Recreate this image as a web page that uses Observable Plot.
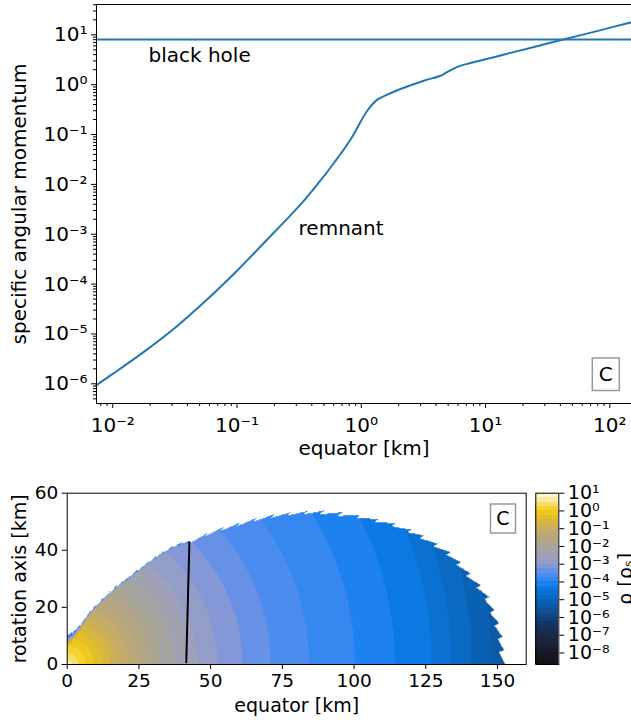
<!DOCTYPE html>
<html>
<head>
<meta charset="utf-8">
<script src="https://cdn.jsdelivr.net/npm/d3@7"></script>
<script src="https://cdn.jsdelivr.net/npm/@observablehq/plot@0.6"></script>
<style>
  html, body { margin: 0; padding: 0; background: #fff; }
  #wrap { position: relative; width: 631px; height: 723px; overflow: hidden; font-family: "DejaVu Sans", sans-serif; }
  #wrap svg { position: absolute; left: 0; }
</style>
</head>
<body>
<div id="wrap"></div>
<script>
// ---------------- top panel data ----------------
const remnantX = [0.00735, 0.0100, 0.0178, 0.0316, 0.0562, 0.100, 0.176, 0.325, 0.443, 0.603, 0.820,
                  1.117, 1.346, 1.585, 2.070, 3.19, 4.345, 4.786, 6.0, 7.13, 13.18, 24.55, 42.17, 83.2, 149.6];
const remnantY = [9.33e-7, 1.58e-6, 4.37e-6, 1.32e-5, 4.68e-5, 1.86e-4, 7.94e-4, 3.98e-3, 1.00e-2, 2.69e-2, 7.94e-2,
                  0.300, 0.501, 0.617, 0.820, 1.202, 1.514, 1.72, 2.30, 2.618, 3.864, 5.715, 8.05, 12.30, 17.91];
const blackHoleJ = 8.05;
const topXDomain = [0.0074, 149.5];
const topYDomain = [4.03e-7, 40.6];
const topXTicks = [0.01, 0.1, 1, 10, 100];
const topYTicks = [1e-6, 1e-5, 1e-4, 1e-3, 1e-2, 1e-1, 1, 10];
const topLabels = [
  {text: "black hole", x: 0.05, y: 3.85},
  {text: "remnant", x: 0.688, y: 1.27e-3}
];

// ---------------- bottom panel data ----------------
// density profile along radius (km) -> log10 rho
const profileR   = [0, 0.9, 1.74, 4.0, 6.4, 9.3, 12.2, 15.1, 18.0, 21.5, 25.0, 28.5, 32.6, 37.2, 41.9, 45.4, 52.3, 61.1, 70.9, 84.3, 100.3, 114.2, 127.0, 134.0, 141.0, 148.0, 153.0];
const profileLog = [0.85, 0.75, 0.5, 0.25, 0.0, -0.25, -0.5, -0.75, -1.0, -1.25, -1.5, -1.75, -2.0, -2.25, -2.5, -2.75, -3.0, -3.25, -3.5, -3.75, -4.0, -4.25, -4.5, -4.75, -5.0, -5.25, -5.45];
// surface tooth tips (equator km, rotation axis km), from pole to equator
const surfaceX = [0, 1.7, 3.2, 4.65, 6.3, 8.1, 10.4, 12.8, 15.1, 17.4, 19.8, 22.1, 24.4, 26.7, 29.0, 31.4, 34.3, 37.2, 40.1, 43.0,
                  48.8, 54.6, 60.5, 66.3, 72.1, 77.9, 83.7, 89.5, 95.9, 102.3, 108.7, 114.5, 119.8, 124.4, 129.1, 133.7,
                  137.2, 140.7, 144.2, 147.1, 148.9, 150.6, 151.8, 152.3, 152.6];
const surfaceY = [10.75, 11.3, 12.8, 14.2, 16.4, 19.0, 21.3, 23.6, 25.8, 27.7, 29.6, 31.2, 33.0, 34.7, 36.5, 38.2, 40.0, 41.7, 42.8, 43.4,
                  46.0, 48.1, 49.8, 51.4, 52.5, 53.3, 53.7, 53.9, 53.3, 52.4, 51.0, 49.5, 47.2, 45.2, 42.3, 39.3,
                  35.8, 31.8, 27.7, 23.6, 18.9, 14.3, 9.6, 4.9, 0];
const surfaceLog = -5.3;      // log10 rho right at the surface
const surfaceGrad = 1.3;      // rise of log10 rho per km below the surface
const cutX = [41.5, 42.6];
const cutY = [0.8, 42.8];
const bottomXTicks = [0, 25, 50, 75, 100, 125, 150];
const bottomYTicks = [0, 20, 40, 60];
const cbarDomain = [-8.65, 1.0];
const cbarTicks = [-8, -7, -6, -5, -4, -3, -2, -1, 0, 1];
// colormap stops: log10 rho -> colour
const cmapLog = [-8.65, -8.0, -7.5, -6.9, -6.3, -5.8, -5.4, -5.15, -4.9, -4.65, -4.4, -4.15, -3.9, -3.65, -3.35, -3.05, -2.7, -2.3, -1.9, -1.5, -1.1, -0.75, -0.4, -0.1, 0.2, 0.5, 0.8, 1.1];
const cmapCol = ["#111116", "#181a26", "#1a2236", "#182a4a", "#133766", "#0e4a8e", "#0c58a6", "#0a60b2", "#0a68c0", "#0a70d0", "#0a78e0", "#1a80ef", "#3487f0", "#4a8cf0", "#6a91e6", "#8c9ad2", "#9ca0be", "#a2a3ac", "#aaa593", "#b5a77f", "#c4ab68", "#d2b24a", "#e2bd2c", "#f0c81c", "#f5d535", "#f9e48a", "#fdf2c8", "#fffdf4"];

// ---------------- helpers ----------------
const SUP = {"-": "\u207B", "0": "\u2070", "1": "\u00B9", "2": "\u00B2", "3": "\u00B3", "4": "\u2074", "5": "\u2075", "6": "\u2076", "7": "\u2077", "8": "\u2078", "9": "\u2079"};
const supExp = e => String(e).split("").map(c => SUP[c]).join("");
const pow10 = v => "10" + supExp(Math.round(Math.log10(v)));
function minorLog(domain) {
  const out = [];
  for (let e = Math.floor(Math.log10(domain[0])); e <= Math.ceil(Math.log10(domain[1])); e++)
    for (let m = 2; m <= 9; m++) { const v = m * 10 ** e; if (v >= domain[0] && v <= domain[1]) out.push(v); }
  return out;
}
const FONT = "DejaVu Sans";
const C0 = "#1f77b4";
const wrap = document.getElementById("wrap");
const centered = {textAnchor: "middle", lineAnchor: "middle", fill: "black"};

// ---------------- top panel ----------------
const remnant = remnantX.map((x, i) => ({x, y: remnantY[i]}));
const topPlot = Plot.plot({
  width: 631, height: 470,
  marginLeft: 96, marginRight: 0, marginTop: 4, marginBottom: 67,
  style: {fontFamily: FONT, fontSize: "20px", background: "transparent", overflow: "visible", color: "black"},
  x: {type: "log", domain: topXDomain},
  y: {type: "log", domain: topYDomain},
  marks: [
    Plot.ruleY([blackHoleJ], {stroke: C0, strokeWidth: 2}),
    Plot.line(remnant, {x: "x", y: "y", stroke: C0, strokeWidth: 2, curve: "catmull-rom"}),
    Plot.ruleX([topXDomain[0]], {stroke: "black"}),
    Plot.ruleY(topYDomain, {stroke: "black"}),
    Plot.axisX({ticks: topXTicks, tickFormat: pow10, tickSize: 5, tickPadding: 9, label: null, fontSize: 20}),
    Plot.axisX({ticks: minorLog(topXDomain), tickFormat: () => "", tickSize: 3, label: null}),
    Plot.axisY({ticks: topYTicks, tickFormat: pow10, tickSize: 5, tickPadding: 4, label: null, fontSize: 20}),
    Plot.axisY({ticks: minorLog(topYDomain), tickFormat: () => "", tickSize: 3, label: null}),
    Plot.text(topLabels, {x: "x", y: "y", text: "text", fontSize: 20, ...centered}),
    Plot.text(["equator [km]"], {frameAnchor: "bottom", dy: 45, fontSize: 20, ...centered}),
    Plot.text(["specific angular momentum"], {frameAnchor: "left", dx: -77, rotate: -90, fontSize: 20, ...centered}),
    Plot.dot([0], {frameAnchor: "bottom-right", dx: -25.7, dy: -29.3, fill: "white", stroke: "#999", strokeWidth: 1.5,
      symbol: {draw(ctx) { ctx.rect(-13.5, -16.3, 27, 32.6); }}}),
    Plot.text(["C"], {frameAnchor: "bottom-right", dx: -25.7, dy: -29.3, fontSize: 20, ...centered})
  ]
});
topPlot.style.top = "0px";
wrap.appendChild(topPlot);

// ---------------- bottom panel ----------------
const levels = d3.range(-8.5, 1.0001, 0.25);
const bandEdges = [cbarDomain[0], ...levels, 1.1];
const cmap = d3.scaleLinear().domain(cmapLog).range(cmapCol).interpolate(d3.interpolateRgb).clamp(true);
const bandColors = d3.range(bandEdges.length - 1).map(i => cmap((bandEdges[i] + bandEdges[i + 1]) / 2));
const colorScale = {type: "threshold", domain: levels, range: bandColors};

const profile = d3.scaleLinear().domain(profileR).range(profileLog).clamp(true);
const tips = surfaceX.map((x, i) => [x, surfaceY[i]]);
const byAngle = tips.map(([x, y]) => [Math.atan2(y, x), Math.hypot(x, y)]).sort((a, b) => a[0] - b[0]);
const surfaceR = d3.scaleLinear().domain(byAngle.map(d => d[0])).range(byAngle.map(d => d[1])).clamp(true);
// outline with saw teeth between tips
const outline = [[0, 0]];
for (let k = 0; k < tips.length - 1; k++) {
  const [ax, ay] = tips[k], [bx, by] = tips[k + 1];
  outline.push([ax, ay]);
  const seg = Math.hypot(bx - ax, by - ay);
  const nx = ax + 0.1 * (bx - ax), ny = ay + 0.1 * (by - ay);
  const nr = Math.hypot(nx, ny), s = Math.max(0, 1 - 0.38 * seg / nr);
  outline.push([nx * s, ny * s]);
}
outline.push(tips[tips.length - 1]);
const inside = (x, y) => d3.polygonContains(outline, [x, y]);
function logRho(x, y) {
  if (!inside(x, y)) return NaN;
  const r = Math.hypot(x, y);
  const depth = Math.max(0, surfaceR(Math.atan2(y, x)) - r);
  return Math.min(profile(r), surfaceLog + surfaceGrad * depth);
}

const bottomPlot = Plot.plot({
  width: 631, height: 253,
  marginLeft: 66.7, marginRight: 105.3, marginTop: 22.7, marginBottom: 59,
  style: {fontFamily: FONT, fontSize: "18.5px", background: "transparent", overflow: "visible", color: "black"},
  x: {domain: [0, 160]},
  y: {domain: [0, 60]},
  color: colorScale,
  marks: [
    Plot.raster({x1: 0, x2: 160, y1: 0, y2: 60, fill: logRho, fillOpacity: (x, y) => inside(x, y) ? 1 : 0, pixelSize: 1}),
    Plot.line(cutX.map((x, i) => ({x, y: cutY[i]})), {x: "x", y: "y", stroke: "black", strokeWidth: 2}),
    Plot.frame({stroke: "black"}),
    Plot.axisX({ticks: bottomXTicks, tickSize: 5, tickPadding: 4, label: null, fontSize: 18.5}),
    Plot.axisY({ticks: bottomYTicks, tickSize: 5, tickPadding: 4, label: null, fontSize: 18.5}),
    Plot.text(["equator [km]"], {frameAnchor: "bottom", dy: 41, fontSize: 19, ...centered}),
    Plot.text(["rotation axis [km]"], {frameAnchor: "left", dx: -47, rotate: -90, fontSize: 19, ...centered}),
    Plot.dot([0], {frameAnchor: "top-right", dx: -23.2, dy: 25.3, fill: "white", stroke: "#999", strokeWidth: 1.5,
      symbol: {draw(ctx) { ctx.rect(-12.5, -14.5, 25, 29); }}}),
    Plot.text(["C"], {frameAnchor: "top-right", dx: -23.2, dy: 25.3, fontSize: 19, ...centered})
  ]
});
bottomPlot.style.top = "470px";
wrap.appendChild(bottomPlot);

// ---------------- colorbar ----------------
const bands = d3.range(bandEdges.length - 1).map(i => ({
  lo: Math.max(bandEdges[i], cbarDomain[0]),
  hi: Math.min(bandEdges[i + 1], cbarDomain[1]),
  mid: (bandEdges[i] + bandEdges[i + 1]) / 2
})).filter(d => d.hi > d.lo);
const cbar = Plot.plot({
  width: 631, height: 253,
  marginLeft: 535.3, marginRight: 72.7, marginTop: 22.7, marginBottom: 59,
  style: {fontFamily: FONT, fontSize: "19px", background: "transparent", overflow: "visible", color: "black"},
  x: {domain: [0, 1], axis: null},
  y: {domain: cbarDomain},
  color: colorScale,
  marks: [
    Plot.rect(bands, {x1: () => 0, x2: () => 1, y1: "lo", y2: "hi", fill: "mid", shapeRendering: "crispEdges"}),
    Plot.frame({stroke: "black"}),
    Plot.axisY({anchor: "right", ticks: cbarTicks, tickFormat: d => "10" + supExp(d), tickSize: 5, tickPadding: 4, label: null, fontSize: 19}),
    Plot.text(["\u03C1 [\u03C1\u209B]"], {frameAnchor: "right", dx: 67, rotate: -90, fontSize: 19, ...centered})
  ]
});
cbar.style.top = "470px";
wrap.appendChild(cbar);
</script>
</body>
</html>
